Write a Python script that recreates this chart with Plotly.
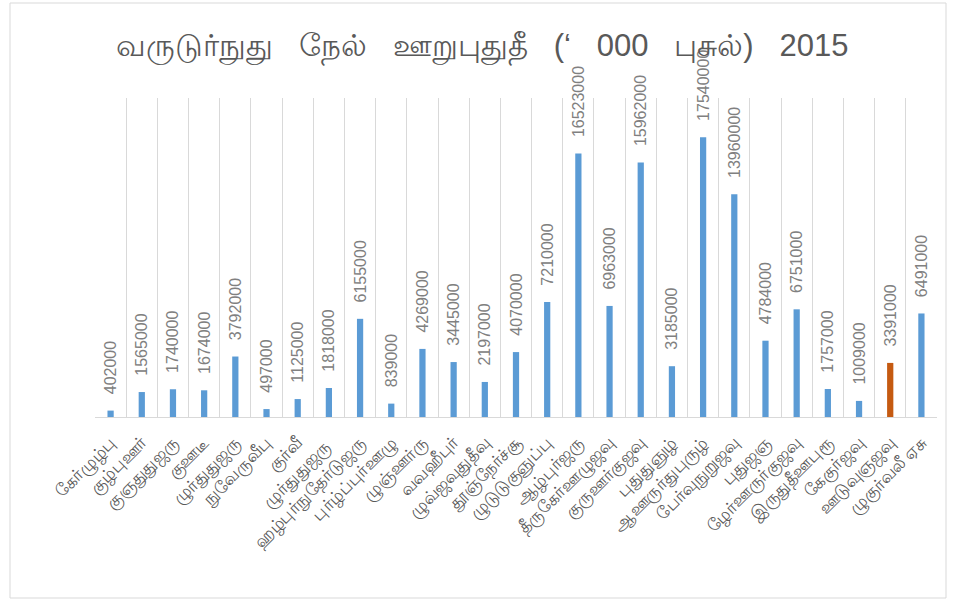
import plotly.graph_objects as go

title_text = "வருடுர்நுது   நேல்   ஊறுபுதுதீ   (‘   000   புசுல்)   2015"

categories = [
    "கேர்ழுழ்பு", "குழ்புஊர்", "குஞதுதுஜரு", "குஊடீ", "ழுர்துதுஜரு",
    "நுவேருவீபு", "குர்வீ", "ழுர்துதுஜரு ", "ஹழ்புர்நுதேர்டுஜரு", "புர்ழ்ப்புர்ஊழு",
    "ழுஞ்ஊர்ரு", "வவஹீபுர்", "ழுவ்ஜவுதுதீவு", "தூஞ்நேர்ச்சூ", "ழுடுடுகுஞுப்பு",
    "ஆழ்புர்ஜரு", "தீருகேர்ஊழுஜவு", "குருஊர்குஜவு", "புதுதுஞுழ்", "ஆஊருர்துபுருழ்",
    "பேர்வுநுறுஜவு", "புதுஜஞ", "ழேர்ஊருர்குஜவு", "இருதுதீஊபுரூ", "கேகுர்ஜவு",
    "ஊடுவுஞஜவு", "ழுகுர்வலீ ஏசு",
]

values = [
    402000, 1565000, 1740000, 1674000, 3792000,
    497000, 1125000, 1818000, 6155000, 839000,
    4269000, 3445000, 2197000, 4070000, 7210000,
    16523000, 6963000, 15962000, 3185000, 17540000,
    13960000, 4784000, 6751000, 1757000, 1009000,
    3391000, 6491000,
]

highlight_index = 25
colors = ["#C55A11" if i == highlight_index else "#5B9BD5" for i in range(len(values))]
label_pad = "\u00a0\u00a0\u00a0"

fig = go.Figure(
    go.Bar(
        x=categories,
        y=values,
        marker=dict(color=colors, line=dict(width=0)),
        text=[label_pad + str(v) for v in values],
        textposition="outside",
        textangle=-90,
        constraintext="none",
        cliponaxis=False,
        textfont=dict(family="Liberation Sans, Arial, sans-serif", size=16, color="#808080"),
        width=0.2,
        hoverinfo="skip",
    )
)

fig.update_layout(
    width=955,
    height=608,
    margin=dict(l=95, r=18, t=98, b=191),
    paper_bgcolor="white",
    plot_bgcolor="white",
    showlegend=False,
    title=dict(
        text=title_text,
        x=0.505,
        xanchor="center",
        y=0.925,
        yanchor="middle",
        font=dict(family="Liberation Sans Narrow, Liberation Sans, sans-serif", size=31, color="#595959"),
    ),
    font=dict(family="Liberation Sans, sans-serif", color="#595959"),
    xaxis=dict(
        type="category",
        tickson="boundaries",
        automargin=False,
        showgrid=True,
        gridcolor="#D9D9D9",
        gridwidth=1,
        showline=True,
        linecolor="#D9D9D9",
        linewidth=1,
        ticks="",
        tickangle=-45,
        ticklabelstandoff=8,
        tickfont=dict(size=17, color="#595959"),
    ),
    yaxis=dict(
        range=[0, 20000000],
        automargin=False,
        showgrid=False,
        showticklabels=False,
        zeroline=False,
        showline=False,
        ticks="",
    ),
    shapes=[
        dict(
            type="rect",
            xref="paper",
            yref="paper",
            x0=(10 - 95) / 842,
            x1=(946 - 95) / 842,
            y0=(417 - 598) / 319,
            y1=(417 - 3) / 319,
            line=dict(color="#D9D9D9", width=1),
            fillcolor="rgba(0,0,0,0)",
            layer="below",
        )
    ],
)

fig.write_html(
    "out.html",
    config={"displayModeBar": False},
    post_script="document.body.style.margin='0';document.body.style.overflow='hidden';",
)
